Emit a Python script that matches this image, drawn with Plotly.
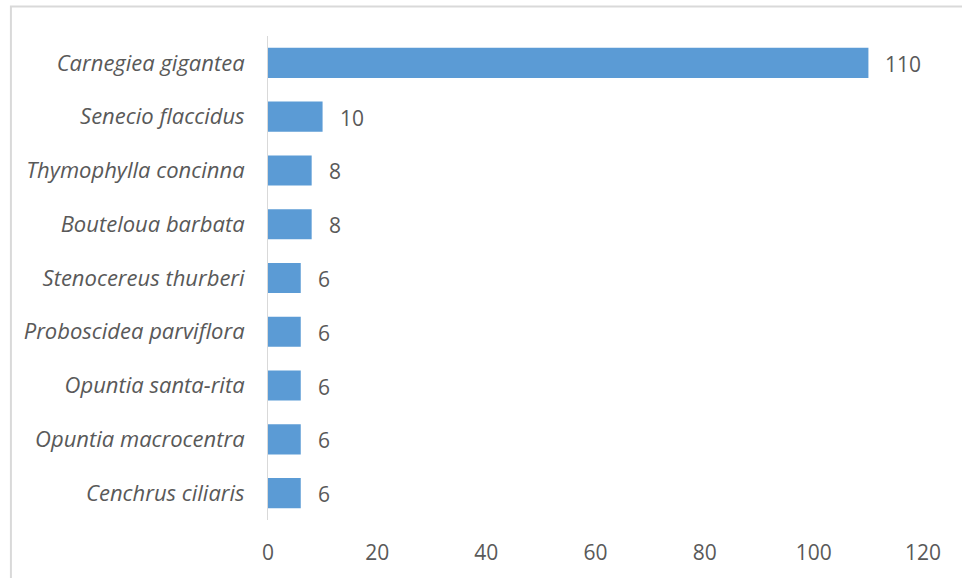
import plotly.graph_objects as go

# Species counts, listed top to bottom as drawn
species = [
    "Carnegiea gigantea",
    "Senecio flaccidus",
    "Thymophylla concinna",
    "Bouteloua barbata",
    "Stenocereus thurberi",
    "Proboscidea parviflora",
    "Opuntia santa-rita",
    "Opuntia macrocentra",
    "Cenchrus ciliaris",
]
counts = [110, 10, 8, 8, 6, 6, 6, 6, 6]
x_ticks = [0, 20, 40, 60, 80, 100, 120]

BAR = "#5B9BD5"
TEXT = "#595959"
FONT = "Open Sans"

fig = go.Figure(
    go.Bar(
        x=counts,
        y=species,
        orientation="h",
        marker=dict(color=BAR, line=dict(width=0)),
        hoverinfo="skip",
    )
)

# Value labels to the right of each bar
for s, v in zip(species, counts):
    fig.add_annotation(
        x=v, y=s, text=str(v), showarrow=False,
        xanchor="left", xshift=15, yshift=-1,
        font=dict(family=FONT, size=21, color=TEXT),
    )

# Light chart-area border
fig.add_shape(
    type="rect", xref="paper", yref="paper",
    x0=-0.3925, x1=1.2, y0=-0.3, y1=1.061,
    line=dict(color="#d9d9d9", width=2), fillcolor="rgba(0,0,0,0)",
    layer="below",
)

fig.update_layout(
    width=962, height=578,
    margin=dict(l=268, r=39, t=36, b=58),
    paper_bgcolor="white", plot_bgcolor="white",
    bargap=0.44,
    showlegend=False,
    xaxis=dict(
        range=[0, 120], tickvals=x_ticks, showgrid=False, zeroline=False,
        showline=False, ticks="",
        ticklabelstandoff=18,
        tickfont=dict(family=FONT, size=21, color=TEXT),
    ),
    yaxis=dict(
        autorange="reversed", showgrid=False, zeroline=False,
        showline=True, linecolor="#d9d9d9", linewidth=1, ticks="",
        ticklabelstandoff=18,
        tickfont=dict(family=FONT, size=22, color=TEXT, style="italic"),
    ),
)

fig.write_html("out.html")
